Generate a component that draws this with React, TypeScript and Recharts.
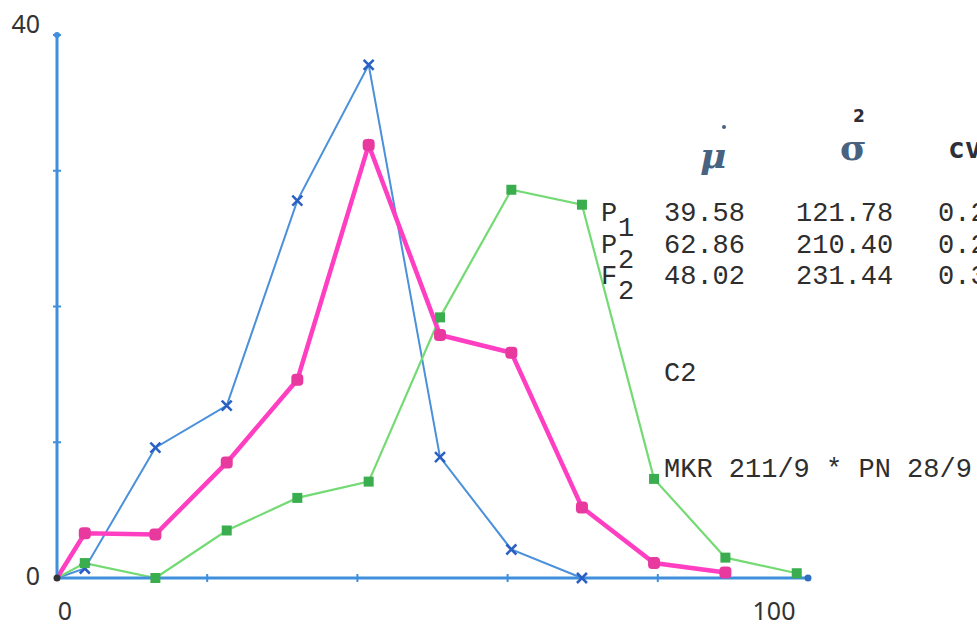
import { LineChart, Line, XAxis, YAxis } from 'recharts';

// class midpoints (x) and frequency (%) of each population
const classMids = [0, 3.7, 13.1, 22.6, 32, 41.5, 51, 60.5, 69.9, 79.5, 89, 98.5];
const p1Values = [0, 0.7, 9.6, 12.7, 27.8, 37.8, 8.9, 2.1, 0, null, null, null];
const f2Values = [0, 3.3, 3.2, 8.5, 14.6, 31.9, 17.9, 16.6, 5.2, 1.1, 0.4, null];
const p2Values = [0, 1.1, 0, 3.5, 5.9, 7.1, 19.2, 28.6, 27.5, 7.3, 1.5, 0.35];

const xTicks = [0, 20, 40, 60, 80, 100];
const yTicks = [0, 10, 20, 30, 40];

const statRows = ['P', 'P', 'F'];
const statSubs = ['1', '2', '2'];
const means = ['39.58', '62.86', '48.02'];
const variances = ['121.78', '210.40', '231.44'];
const cvs = ['0.28', '0.23', '0.32'];

const data = classMids.map((x, i) => ({
  x,
  p1: p1Values[i],
  f2: f2Values[i],
  p2: p2Values[i],
}));

const AXIS = '#3f8fdd';
const LABEL_FONT = '"Noto Sans", sans-serif';
const TYPE_FONT = '"Liberation Mono", monospace';

const XTick = (props: any) => {
  const { x, y, payload } = props;
  const v = payload.value;
  return (
    <g>
      {v !== 0 && v !== 100 && (
        <line x1={x} x2={x} y1={y - 4} y2={y + 4} stroke={AXIS} strokeWidth={2} />
      )}
      {v === 100 && <circle cx={x} cy={y} r={3.5} fill="#2f6fc0" />}
      {v === 0 && (
        <text x={x + 8} y={y + 42} textAnchor="middle" fontFamily={LABEL_FONT} fontSize={25} fill="#333">
          0
        </text>
      )}
      {v === 100 && (
        <text x={x - 34} y={y + 42} textAnchor="middle" fontFamily={LABEL_FONT} fontSize={25} fill="#333">
          100
        </text>
      )}
    </g>
  );
};

const YTick = (props: any) => {
  const { x, y, payload } = props;
  const v = payload.value;
  return (
    <g>
      {v !== 0 && <line x1={x - 4} x2={x + 4} y1={y} y2={y} stroke={AXIS} strokeWidth={2} />}
      {v === 40 && <circle cx={x} cy={y} r={3} fill={AXIS} />}
      {(v === 0 || v === 40) && (
        <text x={x - 17} y={v === 0 ? y + 7 : y - 2} textAnchor="end" fontFamily={LABEL_FONT} fontSize={25} fill="#333">
          {v}
        </text>
      )}
    </g>
  );
};

const CrossDot = (props: any) => {
  const { cx, cy, index, payload } = props;
  if (cy == null || cx == null) return <g key={`p1-${index}`} />;
  if (payload.x === 0) return <circle key={`p1-${index}`} cx={cx} cy={cy} r={3.5} fill="#333" />;
  return (
    <g key={`p1-${index}`} stroke="#2a5fc4" strokeWidth={2.5}>
      <line x1={cx - 5} y1={cy - 5} x2={cx + 5} y2={cy + 5} />
      <line x1={cx - 5} y1={cy + 5} x2={cx + 5} y2={cy - 5} />
    </g>
  );
};

const PinkDot = (props: any) => {
  const { cx, cy, index, payload } = props;
  if (cy == null || cx == null || payload.x === 0) return <g key={`f2-${index}`} />;
  return <rect key={`f2-${index}`} x={cx - 6} y={cy - 6} width={12} height={12} rx={4} fill="#e8399f" />;
};

const GreenDot = (props: any) => {
  const { cx, cy, index, payload } = props;
  if (cy == null || cx == null || payload.x === 0) return <g key={`p2-${index}`} />;
  return <rect key={`p2-${index}`} x={cx - 5} y={cy - 5} width={10} height={10} fill="#3aae4e" />;
};

export default function App() {
  return (
    <div style={{ position: 'absolute', left: 0, top: 0, width: 977, height: 626, background: '#fff' }}>
      <LineChart
        width={977}
        height={626}
        data={data}
        margin={{ top: 35, right: 169, left: 0, bottom: 0 }}
      >
        <XAxis
          dataKey="x"
          type="number"
          domain={[0, 100]}
          ticks={xTicks}
          height={48}
          tickSize={0}
          tickMargin={0}
          tickLine={false}
          axisLine={{ stroke: AXIS, strokeWidth: 3 }}
          tick={<XTick />}
          interval={0}
        />
        <YAxis
          type="number"
          domain={[0, 40]}
          ticks={yTicks}
          width={57}
          tickSize={0}
          tickMargin={0}
          tickLine={false}
          axisLine={{ stroke: AXIS, strokeWidth: 3 }}
          tick={<YTick />}
          interval={0}
        />
        <Line
          dataKey="p1"
          type="linear"
          stroke="#4a90da"
          strokeWidth={2}
          dot={CrossDot}
          activeDot={false}
          isAnimationActive={false}
        />
        <Line
          dataKey="p2"
          type="linear"
          stroke="#74da74"
          strokeWidth={2.2}
          dot={GreenDot}
          activeDot={false}
          isAnimationActive={false}
        />
        <Line
          dataKey="f2"
          type="linear"
          stroke="#ff3ec2"
          strokeWidth={4.5}
          dot={PinkDot}
          activeDot={false}
          isAnimationActive={false}
        />
      </LineChart>
      <svg
        width={977}
        height={626}
        style={{ position: 'absolute', left: 0, top: 0, pointerEvents: 'none' }}
      >
        <text x={700} y={168} fontFamily='"DejaVu Serif", serif' fontStyle="italic" fontWeight="bold" fontSize={36} fill="#48627f">
          μ
        </text>
        <circle cx={724} cy={127} r={2} fill="#48627f" />
        <text x={840} y={160} fontFamily='"DejaVu Serif", serif' fontWeight="bold" fontSize={36} fill="#48627f">
          σ
        </text>
        <text x={853} y={122} fontFamily='"DejaVu Sans", sans-serif' fontWeight="bold" fontSize={17} fill="#2f2f3a">
          2
        </text>
        <text x={948} y={158} fontFamily='"DejaVu Sans Mono", monospace' fontWeight="bold" fontSize={28} fill="#2f2f3a">
          cv
        </text>
        {statRows.map((r, i) => {
          const base = 221 + i * 31.5;
          return (
            <g key={r + i} fontFamily={TYPE_FONT} fontSize={27} fill="#2e2e2e">
              <text x={601} y={base}>{r}</text>
              <text x={618} y={base + 15}>{statSubs[i]}</text>
              <text x={664} y={base}>{means[i]}</text>
              <text x={796} y={base}>{variances[i]}</text>
              <text x={938} y={base}>{cvs[i]}</text>
            </g>
          );
        })}
        <text x={664} y={381} fontFamily={TYPE_FONT} fontSize={27} fill="#2e2e2e">
          C2
        </text>
        <text x={664} y={477} fontFamily={TYPE_FONT} fontSize={27} fill="#2e2e2e">
          MKR 211/9 * PN 28/9
        </text>
      </svg>
    </div>
  );
}
